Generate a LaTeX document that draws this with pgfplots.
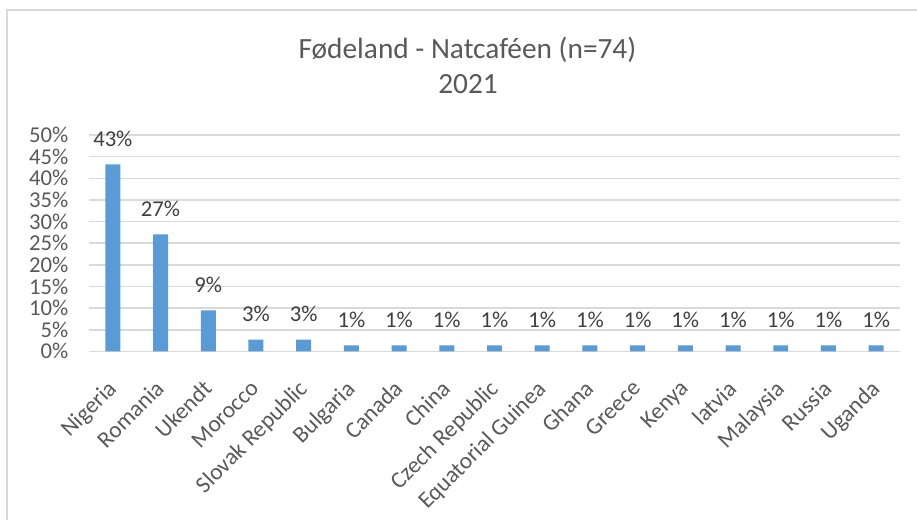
\documentclass[border=0pt]{standalone}
\usepackage{pgfplots}
\pgfplotsset{compat=1.18}
\usepackage{fontspec}
\setmainfont{Carlito}
\definecolor{barblue}{HTML}{5B9BD5}
\definecolor{gridgray}{HTML}{D9D9D9}
\definecolor{ticktext}{HTML}{595959}
\definecolor{labtext}{HTML}{404040}
\begin{document}
\begin{tikzpicture}
\path[use as bounding box] (0,0) rectangle (687.75pt,390pt);
\draw[gridgray, line width=1.2pt] (5.25pt,0) -- (5.25pt,382.5pt) -- (687.75pt,382.5pt);
\node[anchor=base, text=ticktext, font=\fontsize{22}{26}\selectfont] at (350.6pt,346.3pt) {Fødeland - Natcaféen (n=74)};
\node[anchor=base, text=ticktext, font=\fontsize{22}{26}\selectfont] at (351pt,319.5pt) {2021};
\begin{axis}[
  at={(66.75pt,126.5pt)}, anchor=south west,
  scale only axis, width=608.25pt, height=162.2pt,
  ymin=0, ymax=50, ytick={0,5,...,50},
  xmin=-0.5, xmax=16.5,
  xtick=data,
  xticklabels={Nigeria,Romania,Ukendt,Morocco,Slovak Republic,Bulgaria,Canada,China,Czech Republic,Equatorial Guinea,Ghana,Greece,Kenya,latvia,Malaysia,Russia,Uganda},
  x tick label style={xshift=-5pt, yshift=-19pt, rotate=45, anchor=north east, font=\fontsize{17.5}{20}\selectfont, text=ticktext, inner sep=1pt},
  y tick label style={font=\fontsize{17}{20}\selectfont, text=ticktext, anchor=east, xshift=-12pt},
  yticklabel={\pgfmathprintnumber{\tick}\%},
  /pgf/number format/assume math mode=true,
  major tick length=0pt,
  ymajorgrids, grid style={gridgray, line width=1.2pt},
  axis line style={draw=none},
  axis x line*=bottom, axis y line*=left,
  x axis line style={draw=gridgray, line width=1.2pt},
  y axis line style={draw=none},
  clip=false,
]
\addplot[ybar, bar width=0.314, fill=barblue, draw=none,
  nodes near coords={\pgfmathprintnumber[fixed,precision=0]{\pgfplotspointmeta}\%},
  every node near coord/.style={anchor=base, yshift=13.5pt, inner sep=0pt, font=\fontsize{17}{20}\selectfont, text=labtext},
  /pgf/number format/assume math mode=true]
coordinates {(0,43.24) (1,27.03) (2,9.46) (3,2.70) (4,2.70) (5,1.35) (6,1.35) (7,1.35) (8,1.35) (9,1.35) (10,1.35) (11,1.35) (12,1.35) (13,1.35) (14,1.35) (15,1.35) (16,1.35)};
\end{axis}
\end{tikzpicture}
\end{document}
